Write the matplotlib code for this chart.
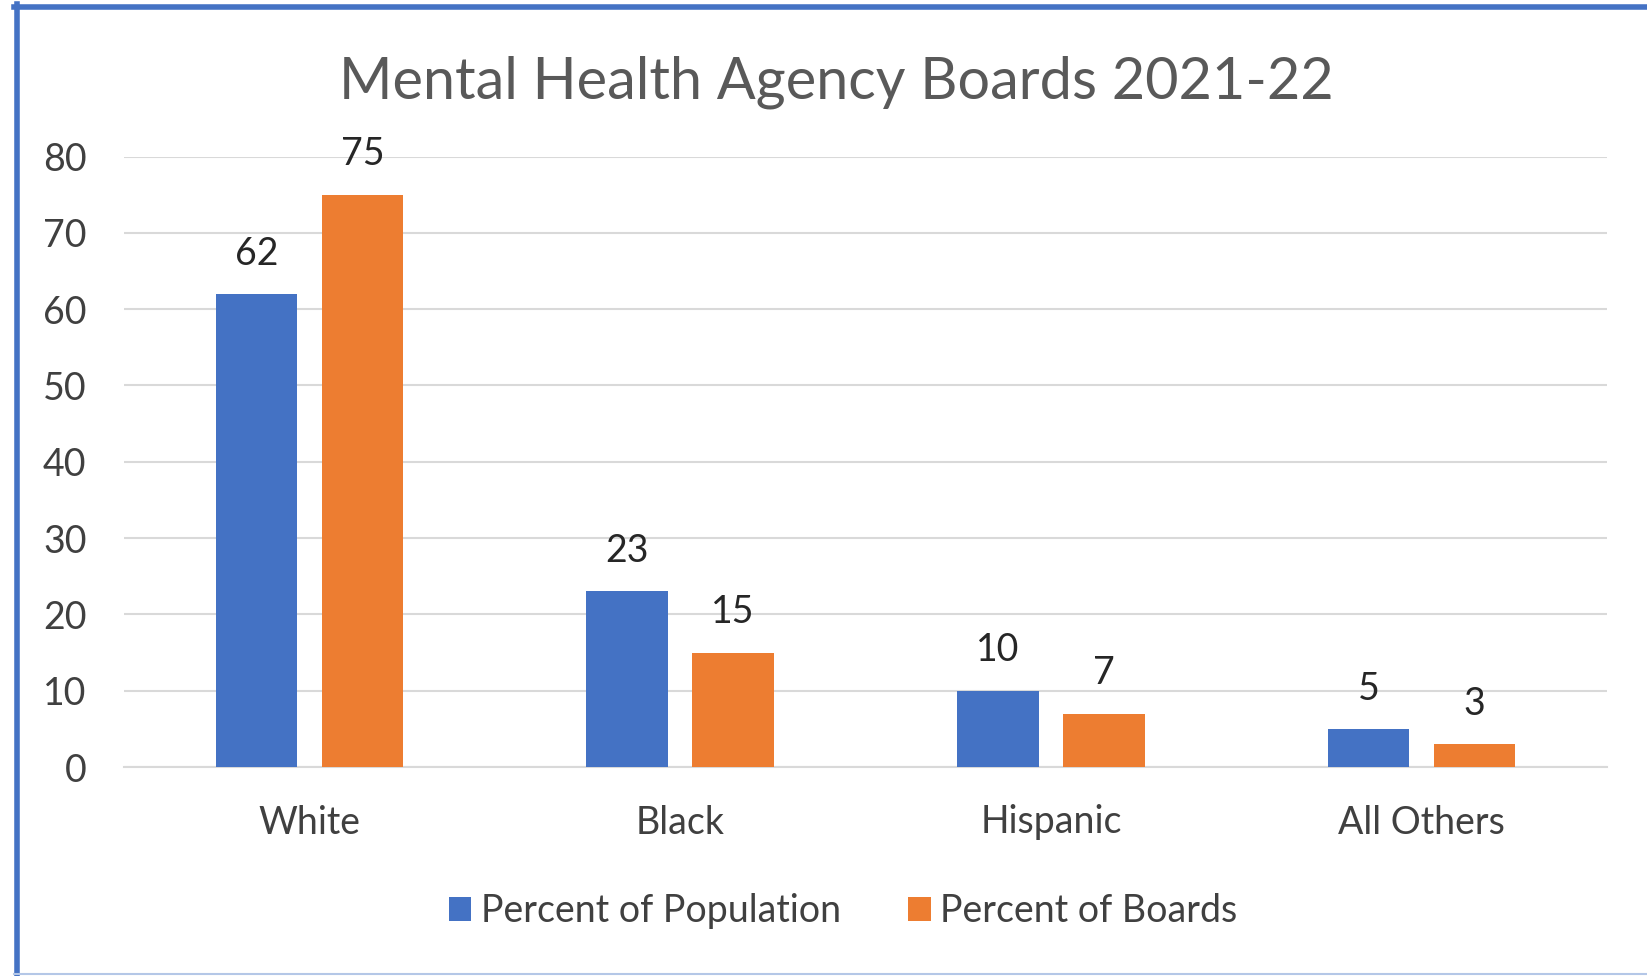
import numpy as np
import matplotlib.pyplot as plt
from matplotlib.lines import Line2D

plt.rcParams['font.family'] = ['Lato', 'DejaVu Sans']

categories = ['White', 'Black', 'Hispanic', 'All Others']
population = [62, 23, 10, 5]
boards = [75, 15, 7, 3]

blue = '#4472C4'
orange = '#ED7D31'
text_col = '#404040'

W, H = 1647, 976
fig = plt.figure(figsize=(W / 100, H / 100), dpi=100)
ax = fig.add_axes([124 / W, 1 - 767 / H, (1607 - 124) / W, (767 - 156.5) / H])

x = np.arange(len(categories))
bw = 0.22
off = 0.143
b1 = ax.bar(x - off, population, bw, color=blue, label='Percent of Population', zorder=3)
b2 = ax.bar(x + off, boards, bw, color=orange, label='Percent of Boards', zorder=3)
for bars in (b1, b2):
    ax.bar_label(bars, padding=16, fontsize=27, color='#262626')

ax.set_xlim(-0.5, len(categories) - 0.5)
ax.set_ylim(0, 80)
ax.set_yticks(range(0, 81, 10))
ax.set_xticks(x)
ax.set_xticklabels(categories)
ax.tick_params(axis='both', length=0, labelsize=27, labelcolor=text_col)
ax.tick_params(axis='x', pad=27)
ax.tick_params(axis='y', pad=27)
ax.grid(axis='y', color='#d9d9d9', linewidth=1.5, zorder=0)
for s in ['top', 'right', 'left']:
    ax.spines[s].set_visible(False)
ax.spines['bottom'].set_color('#d9d9d9')
ax.spines['bottom'].set_linewidth(1.5)

fig.text(0.508, 1 - 82 / H, 'Mental Health Agency Boards 2021-22', ha='center', va='center',
         fontsize=41.5, color='#595959')

fig.legend(handles=[b1, b2], loc='center', bbox_to_anchor=(0.512, 1 - 911 / H), ncol=2,
           frameon=False, fontsize=27, handlelength=0.6, handleheight=0.6,
           handletextpad=0.25, columnspacing=1.8, labelcolor=text_col)

# frame around the picture
fig.add_artist(Line2D([16.5 / W, 16.5 / W], [0, 1 - 4 / H], transform=fig.transFigure,
                      color='#4472C4', linewidth=4))
fig.add_artist(Line2D([14 / W, 1], [1 - 6.5 / H, 1 - 6.5 / H], transform=fig.transFigure,
                      color='#4472C4', linewidth=4))
fig.add_artist(Line2D([14 / W, 1], [2 / H, 2 / H], transform=fig.transFigure,
                      color='#b4c7e7', linewidth=1.5))

fig.savefig('out.png', dpi=100)
